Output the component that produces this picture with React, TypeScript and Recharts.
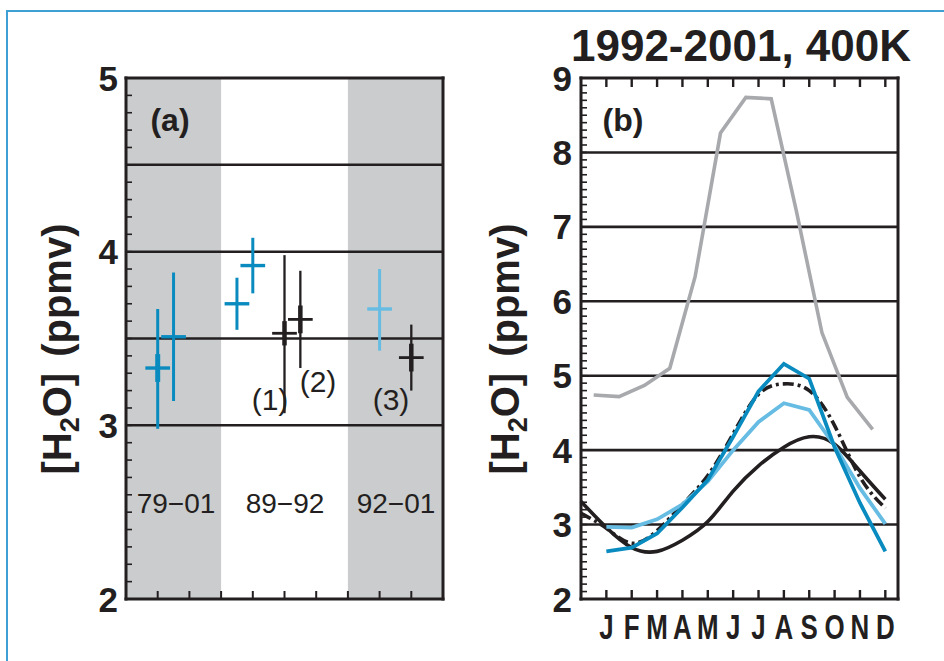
import React from 'react';
import {
  ScatterChart,
  Scatter,
  LineChart,
  Line,
  XAxis,
  YAxis,
  ErrorBar,
  ReferenceArea,
  ReferenceLine,
} from 'recharts';

const FONT = "'Liberation Sans', Arial, Helvetica, sans-serif";
const INK = '#231f20';
const BAND = '#cbcccd';
const DARK_BLUE = '#0a8bbf';
const LIGHT_BLUE = '#66bce2';
const GRAY = '#a7a9ac';

// ---------- Panel (a) ----------
const periodLabels = ['79\u221201', '89\u221292', '92\u221201'];
const periodStart = [0, 3, 7];
const periodEnd = [3, 7, 10];
const periodShaded = [true, false, true];

const aX = [1, 1.5, 3.5, 4, 5, 5.5, 8, 9];
const aY = [3.33, 3.51, 3.7, 3.92, 3.53, 3.61, 3.67, 3.39];
const aLow = [2.98, 3.14, 3.55, 3.76, 3.07, 3.33, 3.43, 3.2];
const aHigh = [3.67, 3.88, 3.85, 4.08, 3.98, 3.89, 3.9, 3.58];
const aCore = [0.08, 0, 0, 0, 0.07, 0.08, 0, 0.08];
const aGroup = ['blue', 'blue', 'blue', 'blue', 'black', 'black', 'light', 'black'];
const aHalfWidth = 0.39;
const aGridValues = [3, 3.5, 4, 4.5];
const aYLabels = [2, 3, 4, 5];
const aXTicks = [1, 2, 3, 4, 5, 6, 7, 8, 9];
const aMinorTicks = Array.from({ length: 31 }, (_, i) => Math.round((2 + i * 0.1) * 10) / 10);

// ---------- Panel (b) ----------
const monthLetters = ['J', 'F', 'M', 'A', 'M', 'J', 'J', 'A', 'S', 'O', 'N', 'D'];
const monthTicks = [1, 2, 3, 4, 5, 6, 7, 8, 9, 10, 11, 12];
const fullX = [0, 1, 2, 3, 4, 5, 6, 7, 8, 9, 10, 11, 12];
const blackSolid = [3.31, 2.96, 2.69, 2.64, 2.79, 3.04, 3.45, 3.79, 4.04, 4.18, 4.08, 3.72, 3.34];
const dashDot = [3.15, 2.95, 2.75, 2.92, 3.27, 3.66, 4.22, 4.75, 4.89, 4.8, 4.33, 3.64, 3.22];
const blueX = [1, 2, 3, 4, 5, 6, 7, 8, 9, 10, 11, 12];
const darkBlue = [2.64, 2.69, 2.88, 3.23, 3.6, 4.18, 4.79, 5.16, 4.96, 4.04, 3.29, 2.64];
const lightBlue = [2.97, 2.96, 3.07, 3.27, 3.58, 4.0, 4.38, 4.63, 4.54, 4.06, 3.49, 3.01];
const grayX = [0.5, 1.5, 2.5, 3.5, 4.5, 5.5, 6.5, 7.5, 8.5, 9.5, 10.5, 11.5];
const gray = [4.74, 4.72, 4.87, 5.1, 6.33, 8.26, 8.74, 8.72, 7.2, 5.58, 4.71, 4.28];
const bGridValues = [3, 4, 5, 6, 7, 8];
const bYLabels = [2, 3, 4, 5, 6, 7, 8, 9];
const bMinorTicks = Array.from({ length: 71 }, (_, i) => Math.round((2 + i * 0.1) * 10) / 10);

// ---------- built tables ----------
const buildGroup = (g: string) =>
  aX
    .map((x, i) => ({
      x,
      y: aY[i],
      ex: aHalfWidth,
      ey: [aY[i] - aLow[i], aHigh[i] - aY[i]],
      core: aCore[i],
      g: aGroup[i],
    }))
    .filter((d) => d.g === g);

const blueRows = buildGroup('blue');
const blackRows = buildGroup('black');
const lightRows = buildGroup('light');

const allX = Array.from(new Set([...fullX, ...blueX, ...grayX])).sort((a, b) => a - b);
const bRows = allX.map((x) => {
  const fi = fullX.indexOf(x);
  const bi = blueX.indexOf(x);
  const gi = grayX.indexOf(x);
  return {
    x,
    black: fi >= 0 ? blackSolid[fi] : null,
    dash: fi >= 0 ? dashDot[fi] : null,
    dark: bi >= 0 ? darkBlue[bi] : null,
    light: bi >= 0 ? lightBlue[bi] : null,
    gray: gi >= 0 ? gray[gi] : null,
  };
});

// ---------- custom ticks ----------
const LeftTick = (props: any) => {
  const { x, y, payload, len, labels, fontSize, gap, sw } = props;
  const v = payload.value;
  const show = labels && labels.includes(v);
  return (
    <g>
      <line x1={x} y1={y} x2={x + len} y2={y} stroke={INK} strokeWidth={sw} />
      {show && (
        <text
          x={x - gap}
          y={y}
          dy="0.36em"
          textAnchor="end"
          fontFamily={FONT}
          fontWeight="bold"
          fontSize={fontSize}
          fill={INK}
        >
          {v}
        </text>
      )}
    </g>
  );
};

const RightTick = (props: any) => {
  const { x, y, len, sw } = props;
  return <line x1={x} y1={y} x2={x - len} y2={y} stroke={INK} strokeWidth={sw} />;
};

const BottomTick = (props: any) => {
  const { x, y, payload, len, letters, sw } = props;
  const idx = monthTicks.indexOf(payload.value);
  return (
    <g>
      <line x1={x} y1={y} x2={x} y2={y - len} stroke={INK} strokeWidth={sw} />
      {letters && idx >= 0 && (
        <text
          transform={`translate(${x},${y + 40}) scale(0.72,1)`}
          textAnchor="middle"
          fontFamily={FONT}
          fontWeight="bold"
          fontSize={36}
          fill={INK}
        >
          {letters[idx]}
        </text>
      )}
    </g>
  );
};

const TopTick = (props: any) => {
  const { x, y, len, sw } = props;
  return <line x1={x} y1={y} x2={x} y2={y + len} stroke={INK} strokeWidth={sw} />;
};

const frame = { stroke: INK, strokeWidth: 3, strokeLinecap: 'square' as const };
const noShape = () => <g />;

export default function App() {
  return (
    <div
      style={{
        position: 'absolute',
        left: 0,
        top: 0,
        width: 944,
        height: 661,
        background: '#ffffff',
        overflow: 'hidden',
        fontFamily: FONT,
      }}
    >
      <div
        style={{
          position: 'absolute',
          left: 6,
          top: 10,
          width: 960,
          height: 700,
          borderTop: '2px solid #3e9fd4',
          borderLeft: '2px solid #3e9fd4',
        }}
      />

      {/* Panel (a) */}
      <div style={{ position: 'absolute', left: 0, top: 0 }}>
        <ScatterChart width={460} height={661} margin={{ top: 77, right: 16, bottom: 61, left: 125 }}>
          <XAxis
            xAxisId="b"
            orientation="bottom"
            type="number"
            dataKey="x"
            domain={[0, 10]}
            ticks={aXTicks}
            interval={0}
            height={1}
            tickSize={0}
            tickMargin={0}
            tickLine={false}
            axisLine={frame}
            tick={<BottomTick len={8} sw={2} />}
          />
          <XAxis
            xAxisId="t"
            orientation="top"
            type="number"
            dataKey="x"
            domain={[0, 10]}
            height={1}
            tick={false}
            tickLine={false}
            axisLine={frame}
          />
          <YAxis
            yAxisId="l"
            orientation="left"
            type="number"
            dataKey="y"
            domain={[2, 5]}
            ticks={aMinorTicks}
            interval={0}
            width={1}
            tickSize={0}
            tickMargin={0}
            tickLine={false}
            axisLine={frame}
            tick={<LeftTick len={6} sw={1.6} labels={aYLabels} fontSize={35} gap={8} />}
          />
          <YAxis
            yAxisId="r"
            orientation="right"
            type="number"
            domain={[2, 5]}
            ticks={aMinorTicks}
            interval={0}
            width={1}
            tickSize={0}
            tickMargin={0}
            tickLine={false}
            axisLine={frame}
            tick={<RightTick len={6} sw={1.6} />}
          />
          {periodStart.map((s, i) =>
            periodShaded[i] ? (
              <ReferenceArea
                key={'band' + i}
                xAxisId="b"
                yAxisId="l"
                x1={s}
                x2={periodEnd[i]}
                y1={2}
                y2={5}
                fill={BAND}
                fillOpacity={1}
                stroke="none"
              />
            ) : null
          )}
          {aGridValues.map((v) => (
            <ReferenceLine key={'ga' + v} xAxisId="b" yAxisId="l" y={v} stroke={INK} strokeWidth={2.5} />
          ))}
          <Scatter xAxisId="b" yAxisId="l" data={blueRows} shape={noShape} isAnimationActive={false}>
            <ErrorBar dataKey="ey" direction="y" width={0} stroke={DARK_BLUE} strokeWidth={3} isAnimationActive={false} />
            <ErrorBar dataKey="core" direction="y" width={0} stroke={DARK_BLUE} strokeWidth={5} isAnimationActive={false} />
            <ErrorBar dataKey="ex" direction="x" width={0} stroke={DARK_BLUE} strokeWidth={3.4} isAnimationActive={false} />
          </Scatter>
          <Scatter xAxisId="b" yAxisId="l" data={lightRows} shape={noShape} isAnimationActive={false}>
            <ErrorBar dataKey="ey" direction="y" width={0} stroke={LIGHT_BLUE} strokeWidth={3} isAnimationActive={false} />
            <ErrorBar dataKey="ex" direction="x" width={0} stroke={LIGHT_BLUE} strokeWidth={3.4} isAnimationActive={false} />
          </Scatter>
          <Scatter xAxisId="b" yAxisId="l" data={blackRows} shape={noShape} isAnimationActive={false}>
            <ErrorBar dataKey="ey" direction="y" width={0} stroke={INK} strokeWidth={2.3} isAnimationActive={false} />
            <ErrorBar dataKey="core" direction="y" width={0} stroke={INK} strokeWidth={4.5} isAnimationActive={false} />
            <ErrorBar dataKey="ex" direction="x" width={0} stroke={INK} strokeWidth={2.8} isAnimationActive={false} />
          </Scatter>
        </ScatterChart>
      </div>

      {/* Panel (b) */}
      <div style={{ position: 'absolute', left: 460, top: 0 }}>
        <LineChart width={484} height={661} data={bRows} margin={{ top: 77, right: 45, bottom: 61, left: 120 }}>
          <XAxis
            xAxisId="b"
            orientation="bottom"
            type="number"
            dataKey="x"
            domain={[0, 12.5]}
            ticks={monthTicks}
            interval={0}
            height={1}
            tickSize={0}
            tickMargin={0}
            tickLine={false}
            axisLine={frame}
            tick={<BottomTick len={9} sw={2.4} letters={monthLetters} />}
          />
          <XAxis
            xAxisId="t"
            orientation="top"
            type="number"
            dataKey="x"
            domain={[0, 12.5]}
            ticks={monthTicks}
            interval={0}
            height={1}
            tickSize={0}
            tickMargin={0}
            tickLine={false}
            axisLine={frame}
            tick={<TopTick len={9} sw={2.4} />}
          />
          <YAxis
            yAxisId="l"
            orientation="left"
            type="number"
            domain={[2, 9]}
            ticks={bMinorTicks}
            interval={0}
            width={1}
            tickSize={0}
            tickMargin={0}
            tickLine={false}
            axisLine={frame}
            tick={<LeftTick len={6} sw={1.6} labels={bYLabels} fontSize={35} gap={9} />}
          />
          <YAxis
            yAxisId="r"
            orientation="right"
            type="number"
            domain={[2, 9]}
            ticks={bMinorTicks}
            interval={0}
            width={1}
            tickSize={0}
            tickMargin={0}
            tickLine={false}
            axisLine={frame}
            tick={<RightTick len={6} sw={1.6} />}
          />
          {bGridValues.map((v) => (
            <ReferenceLine key={'gb' + v} xAxisId="b" yAxisId="l" y={v} stroke={INK} strokeWidth={2.6} />
          ))}
          <Line xAxisId="b" yAxisId="l" dataKey="gray" type="linear" stroke={GRAY} strokeWidth={3.6} dot={false} activeDot={false} connectNulls isAnimationActive={false} />
          <Line xAxisId="b" yAxisId="l" dataKey="black" type="natural" stroke={INK} strokeWidth={3.6} dot={false} activeDot={false} connectNulls isAnimationActive={false} />
          <Line xAxisId="b" yAxisId="l" dataKey="dash" type="natural" stroke={INK} strokeWidth={3.6} strokeDasharray="11 4 3 4" dot={false} activeDot={false} connectNulls isAnimationActive={false} />
          <Line xAxisId="b" yAxisId="l" dataKey="light" type="linear" stroke={LIGHT_BLUE} strokeWidth={3.8} dot={false} activeDot={false} connectNulls isAnimationActive={false} />
          <Line xAxisId="b" yAxisId="l" dataKey="dark" type="linear" stroke={DARK_BLUE} strokeWidth={3.8} dot={false} activeDot={false} connectNulls isAnimationActive={false} />
        </LineChart>
      </div>

      {/* Text overlay */}
      <svg
        width={944}
        height={661}
        style={{ position: 'absolute', left: 0, top: 0, pointerEvents: 'none' }}
        fontFamily={FONT}
        fill={INK}
      >
        <text x={741} y={61} textAnchor="middle" fontSize={44} fontWeight="bold">
          1992-2001, 400K
        </text>
        <text transform="translate(71,349) rotate(-90)" textAnchor="middle" fontSize={40} fontWeight="bold">
          [H<tspan dy={8} fontSize={27}>2</tspan>
          <tspan dy={-8}>O]</tspan>
          <tspan dx={16}>(ppmv)</tspan>
        </text>
        <text transform="translate(519,349) rotate(-90)" textAnchor="middle" fontSize={40} fontWeight="bold">
          [H<tspan dy={8} fontSize={27}>2</tspan>
          <tspan dy={-8}>O]</tspan>
          <tspan dx={16}>(ppmv)</tspan>
        </text>
        <text x={170} y={131} textAnchor="middle" fontSize={32} fontWeight="bold">(a)</text>
        <text x={623} y={131} textAnchor="middle" fontSize={32} fontWeight="bold">(b)</text>
        <text x={176} y={513} textAnchor="middle" fontSize={28}>{periodLabels[0]}</text>
        <text x={285} y={513} textAnchor="middle" fontSize={28}>{periodLabels[1]}</text>
        <text x={396} y={513} textAnchor="middle" fontSize={28}>{periodLabels[2]}</text>
        <text x={270} y={410} textAnchor="middle" fontSize={30}>(1)</text>
        <text x={318} y={392} textAnchor="middle" fontSize={30}>(2)</text>
        <text x={391} y={410} textAnchor="middle" fontSize={30}>(3)</text>
      </svg>
    </div>
  );
}
